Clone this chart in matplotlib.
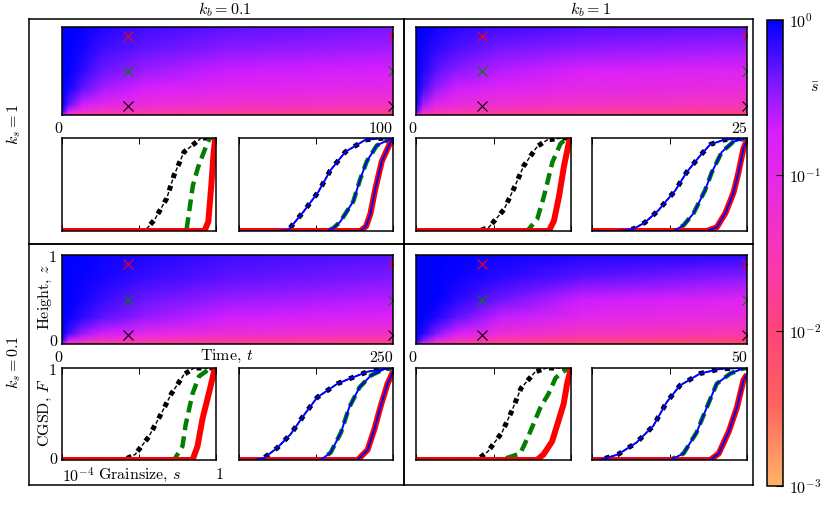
import numpy as np
import matplotlib
matplotlib.use("Agg")
import matplotlib.pyplot as plt
from matplotlib.colors import LinearSegmentedColormap, LogNorm
from matplotlib.cm import ScalarMappable

plt.rcParams['font.family'] = 'serif'
plt.rcParams['font.serif'] = ['cmr10', 'DejaVu Serif']
plt.rcParams['mathtext.fontset'] = 'cm'
plt.rcParams['axes.unicode_minus'] = False
plt.rcParams['axes.formatter.use_mathtext'] = True
plt.rcParams['lines.scale_dashes'] = False

# ---- colour scale (log10 of mean grainsize, -3 .. 0)
cmap_pos = [0.0, 0.18, 0.33, 0.5, 0.67, 0.76, 0.87, 1.0]
cmap_cols = ['#ffb366', '#ff6060', '#ff4478', '#f836b8', '#e428e8',
             '#d81eff', '#7a18ff', '#0000ff']

# ---- mean grainsize fields, log10(s_bar)
# each inner list is one time (t/T in t_frac), values from bottom (z=0) to top (z=1)
z_nodes = [0.0, 0.04, 0.12, 0.3, 0.5, 0.75, 1.0]
t_frac = [0.0, 0.02, 0.06, 0.12, 0.25, 0.5, 1.0]

field_ks1_kb01 = [
    [-1.2, -0.1, 0.0, 0.0, 0.0, 0.0, 0.0],
    [-1.5, -0.85, -0.3, -0.08, 0.0, 0.0, 0.0],
    [-1.7, -1.25, -0.7, -0.3, -0.15, -0.07, -0.03],
    [-1.75, -1.4, -0.95, -0.55, -0.35, -0.2, -0.1],
    [-1.8, -1.5, -1.15, -0.75, -0.52, -0.32, -0.2],
    [-1.85, -1.6, -1.3, -0.9, -0.68, -0.45, -0.3],
    [-1.9, -1.7, -1.4, -1.0, -0.78, -0.55, -0.38],
]
field_ks1_kb1 = [
    [-1.3, -0.2, 0.0, 0.0, 0.0, 0.0, 0.0],
    [-1.65, -1.1, -0.55, -0.2, -0.1, -0.05, 0.0],
    [-1.75, -1.4, -0.95, -0.5, -0.3, -0.15, -0.07],
    [-1.8, -1.5, -1.1, -0.7, -0.45, -0.25, -0.12],
    [-1.85, -1.6, -1.25, -0.85, -0.62, -0.38, -0.2],
    [-1.9, -1.7, -1.38, -1.0, -0.78, -0.48, -0.28],
    [-1.95, -1.75, -1.45, -1.1, -0.88, -0.55, -0.32],
]
field_ks01_kb01 = [
    [-1.2, -0.1, 0.0, 0.0, 0.0, 0.0, 0.0],
    [-1.6, -0.8, -0.2, -0.03, 0.0, 0.0, 0.0],
    [-1.75, -1.15, -0.5, -0.15, -0.07, -0.03, 0.0],
    [-1.85, -1.35, -0.7, -0.3, -0.17, -0.08, -0.04],
    [-1.9, -1.5, -0.95, -0.5, -0.35, -0.18, -0.1],
    [-1.95, -1.65, -1.15, -0.7, -0.5, -0.3, -0.2],
    [-2.0, -1.75, -1.3, -0.85, -0.62, -0.4, -0.27],
]
field_ks01_kb1 = [
    [-0.4, 0.0, 0.0, 0.0, 0.0, 0.0, 0.0],
    [-1.3, -0.4, -0.1, 0.0, 0.0, 0.0, 0.0],
    [-1.75, -1.0, -0.4, -0.1, 0.0, 0.0, 0.0],
    [-1.95, -1.35, -0.75, -0.3, -0.12, -0.04, 0.0],
    [-2.05, -1.65, -1.15, -0.65, -0.35, -0.13, -0.05],
    [-2.15, -1.85, -1.4, -0.95, -0.68, -0.3, -0.1],
    [-2.25, -1.95, -1.55, -1.12, -0.88, -0.45, -0.15],
]

t_max = {'ks1_kb01': 100, 'ks1_kb1': 25, 'ks01_kb01': 250, 'ks01_kb1': 50}
sample_t_frac = [0.2, 1.0]
sample_z = [0.9, 0.5, 0.1]
sample_colors = ['red', 'green', 'black']

# ---- cumulative grainsize distributions: (log10 s, F)
# early = at the first sample time, late = at the final time
ks1_kb01_early_top = ([-4, -0.3, -0.2, -0.12, -0.06, -0.02, 0], [0, 0, 0.1, 0.5, 0.85, 1.0, 1.0])
ks1_kb01_early_mid = ([-4, -0.77, -0.7, -0.6, -0.47, -0.25, -0.16, 0], [0, 0, 0.2, 0.49, 0.68, 0.92, 1.0, 1.0])
ks1_kb01_early_bot = ([-4, -1.85, -1.59, -1.28, -1.09, -0.83, -0.38, 0], [0, 0, 0.125, 0.35, 0.6, 0.85, 1.0, 1.0])
ks1_kb01_late_top = ([-4, -0.85, -0.7, -0.59, -0.46, -0.29, -0.07, 0], [0, 0, 0.05, 0.18, 0.45, 0.75, 0.95, 1.0])
ks1_kb01_late_mid = ([-4, -1.72, -1.55, -1.37, -1.03, -0.85, -0.68, -0.42, -0.07, 0], [0, 0, 0.03, 0.1, 0.32, 0.56, 0.75, 0.92, 0.99, 1.0])
ks1_kb01_late_bot = ([-4, -3.03, -2.72, -2.32, -1.94, -1.63, -1.24, -0.72, -0.2], [0, 0, 0.01, 0.21, 0.42, 0.65, 0.85, 0.98, 1.0])

ks1_kb1_early_top = ([-4, -0.57, -0.44, -0.31, -0.18, -0.05, 0], [0, 0, 0.11, 0.37, 0.70, 0.96, 1.0])
ks1_kb1_early_mid = ([-4, -1.13, -0.87, -0.70, -0.48, -0.27, -0.1, 0], [0, 0, 0.13, 0.37, 0.74, 0.94, 1.0, 1.0])
ks1_kb1_early_bot = ([-4, -2.38, -2.12, -1.73, -1.47, -1.22, -0.87, -0.61, -0.2, 0], [0, 0, 0.04, 0.23, 0.46, 0.70, 0.91, 0.98, 1.0, 1.0])
ks1_kb1_late_top = ([-4, -1.04, -0.78, -0.56, -0.35, -0.22, -0.09, 0], [0, 0, 0.04, 0.19, 0.41, 0.63, 0.89, 0.98])
ks1_kb1_late_mid = ([-4, -1.9, -1.64, -1.38, -1.08, -0.91, -0.65, -0.35, -0.1, 0], [0, 0, 0.06, 0.19, 0.44, 0.63, 0.85, 0.96, 0.99, 1.0])
ks1_kb1_late_bot = ([-4, -3.37, -2.94, -2.64, -2.29, -2.07, -1.86, -1.56, -1.21, -0.95, -0.6, -0.1], [0, 0, 0.02, 0.09, 0.22, 0.33, 0.43, 0.63, 0.81, 0.93, 0.98, 1.0])

ks01_kb01_early_top = ([-4, -0.61, -0.48, -0.35, -0.17, -0.04, 0], [0, 0, 0.15, 0.45, 0.75, 0.98, 1.0])
ks01_kb01_early_mid = ([-4, -1.09, -0.87, -0.79, -0.61, -0.44, -0.17, 0], [0, 0, 0.15, 0.38, 0.72, 0.91, 0.99, 1.0])
ks01_kb01_early_bot = ([-4, -2.4, -2.1, -1.75, -1.44, -1.16, -0.83, -0.57, 0], [0, 0, 0.06, 0.25, 0.49, 0.72, 0.93, 1.0, 1.0])
ks01_kb01_late_top = ([-4, -0.92, -0.66, -0.48, -0.31, -0.14, 0], [0, 0, 0.11, 0.34, 0.6, 0.83, 0.96])
ks01_kb01_late_mid = ([-4, -1.88, -1.62, -1.35, -1.14, -0.87, -0.57, -0.22, 0], [0, 0, 0.08, 0.30, 0.57, 0.79, 0.92, 0.99, 1.0])
ks01_kb01_late_bot = ([-4, -3.62, -3.36, -3.01, -2.66, -2.31, -1.97, -1.44, -1.09, -0.66, -0.04], [0, 0, 0.02, 0.13, 0.28, 0.49, 0.68, 0.83, 0.89, 0.96, 1.0])

ks01_kb1_early_top = ([-4, -0.88, -0.71, -0.49, -0.32, -0.19, -0.1, 0], [0, 0, 0.06, 0.20, 0.43, 0.61, 0.83, 1.0])
ks01_kb1_early_mid = ([-4, -1.82, -1.31, -1.10, -0.79, -0.58, -0.40, -0.27, -0.1, 0], [0, 0, 0.07, 0.26, 0.57, 0.72, 0.89, 0.94, 0.99, 1.0])
ks01_kb1_early_bot = ([-4, -2.43, -2.15, -1.78, -1.52, -1.29, -0.92, -0.62, 0], [0, 0, 0.09, 0.30, 0.54, 0.78, 0.96, 1.0, 1.0])
ks01_kb1_late_top = ([-4, -0.95, -0.73, -0.47, -0.26, -0.09, 0], [0, 0, 0.07, 0.31, 0.57, 0.87, 0.93])
ks01_kb1_late_mid = ([-4, -1.99, -1.64, -1.30, -1.04, -0.78, -0.43, -0.13, 0], [0, 0, 0.07, 0.30, 0.57, 0.83, 0.94, 0.99, 1.0])
ks01_kb1_late_bot = ([-4, -3.8, -3.33, -2.85, -2.42, -2.07, -1.73, -1.21, -0.69, -0.2], [0, 0, 0.06, 0.19, 0.37, 0.63, 0.81, 0.94, 0.99, 1.0])

W, H = 830, 513


def rect(x0, y0, x1, y1):
    return [x0 / W, 1 - y1 / H, (x1 - x0) / W, (y1 - y0) / H]


cmap = LinearSegmentedColormap.from_list('sbar', list(zip(cmap_pos, cmap_cols)))

fig = plt.figure(figsize=(W / 100, H / 100), dpi=100)

# outer frames
for fr in [(29, 19, 404, 244), (404, 19, 753, 244), (29, 244, 404, 485), (404, 244, 753, 485)]:
    fax = fig.add_axes(rect(*fr), zorder=0)
    fax.set_xticks([])
    fax.set_yticks([])
    fax.patch.set_alpha(0)
    for sp in fax.spines.values():
        sp.set_linewidth(1.1)

col_x = [(62, 393, 216, 239), (416, 747, 571, 592)]
row_y = [(27, 115, 138, 231), (255, 344, 368, 460)]


def plot_cgsd(ax, curves, styles):
    for (ls, F), st in zip(curves, styles):
        s = 10.0 ** np.array(ls)
        if st == 'k':
            # square dots and thin dashes, both dashed along the same path
            ax.plot(s, F, color='black', lw=3.6, ls=(0, (3.6, 5.8)), dash_capstyle='butt')
            ax.plot(s, F, color='black', lw=1.0, ls=(4.2, (3.0, 6.4)), dash_capstyle='butt')
        elif st == 'g':
            ax.plot(s, F, color='#007f00', lw=3.2, ls=(0, (8.5, 4.5)), dash_capstyle='butt')
        elif st == 'r':
            ax.plot(s, F, color='#ff0000', lw=4.3, solid_capstyle='butt')
        elif st == 'b':
            ax.plot(s, F, color='#0000ff', lw=1.4)
    ax.set_xscale('log')
    ax.set_xlim(1e-4, 1)
    ax.set_ylim(0, 1)
    ax.tick_params(axis='x', which='both', direction='in', top=True, bottom=True,
                   labelbottom=False)
    ax.tick_params(axis='x', which='major', length=4, width=0.7)
    ax.tick_params(axis='x', which='minor', length=2, width=0.6)
    ax.tick_params(axis='y', length=0, labelleft=False)
    for sp in ax.spines.values():
        sp.set_linewidth(1.1)


def draw_panel(ci, ri, key, field, early, late):
    hx0, hx1, sx1, sx2 = col_x[ci]
    hy0, hy1, sy0, sy1 = row_y[ri]
    T = t_max[key]

    ax = fig.add_axes(rect(hx0, hy0, hx1, hy1))
    ax.pcolormesh(np.array(t_frac) * T, z_nodes, np.array(field).T, cmap=cmap,
                  vmin=-3, vmax=0, shading='gouraud')
    for zm, c in zip(sample_z, sample_colors):
        ax.plot(np.array(sample_t_frac) * T, [zm, zm], ls='none', marker='x',
                color=c, ms=7, mew=0.8)
    ax.set_xlim(0, T)
    ax.set_ylim(0, 1)
    ax.set_xticks([0, T])
    ax.set_xticklabels(['0', str(T)])
    for lab in ax.get_xticklabels():
        lab.set_horizontalalignment('right')
    ax.tick_params(length=0, labelsize=11.5, pad=5)
    ax.set_yticks([])
    for sp in ax.spines.values():
        sp.set_linewidth(1.1)

    a1 = fig.add_axes(rect(hx0, sy0, sx1, sy1))
    plot_cgsd(a1, [early[2], early[1], early[0]], ['k', 'g', 'r'])
    a2 = fig.add_axes(rect(sx2, sy0, hx1, sy1))
    plot_cgsd(a2, [late[2], late[1], late[0], late[2], late[1], late[0]],
              ['k', 'g', 'r', 'b', 'b', 'b'])


draw_panel(0, 0, 'ks1_kb01', field_ks1_kb01,
           (ks1_kb01_early_top, ks1_kb01_early_mid, ks1_kb01_early_bot),
           (ks1_kb01_late_top, ks1_kb01_late_mid, ks1_kb01_late_bot))
draw_panel(1, 0, 'ks1_kb1', field_ks1_kb1,
           (ks1_kb1_early_top, ks1_kb1_early_mid, ks1_kb1_early_bot),
           (ks1_kb1_late_top, ks1_kb1_late_mid, ks1_kb1_late_bot))
draw_panel(0, 1, 'ks01_kb01', field_ks01_kb01,
           (ks01_kb01_early_top, ks01_kb01_early_mid, ks01_kb01_early_bot),
           (ks01_kb01_late_top, ks01_kb01_late_mid, ks01_kb01_late_bot))
draw_panel(1, 1, 'ks01_kb1', field_ks01_kb1,
           (ks01_kb1_early_top, ks01_kb1_early_mid, ks01_kb1_early_bot),
           (ks01_kb1_late_top, ks01_kb1_late_mid, ks01_kb1_late_bot))


def ftext(x, y, s, **kw):
    kw.setdefault('fontsize', 11.5)
    kw.setdefault('ha', 'center')
    kw.setdefault('va', 'center')
    fig.text(x / W, 1 - y / H, s, **kw)


# headings
ftext(225, 10, r'$k_b = 0.1$')
ftext(590, 10, r'$k_b = 1$')
ftext(14, 124, r'$k_s = 1$', rotation=90)
ftext(14, 362, r'$k_s = 0.1$', rotation=90)

# axis annotations (bottom-left panel only)
ftext(45, 297, r'Height, $z$', rotation=90)
ftext(57, 258, '1', ha='right')
ftext(57, 342, '0', ha='right')
ftext(227, 356, r'Time, $t$')
ftext(45, 413, r'CGSD, $F$', rotation=90)
ftext(57, 371, '1', ha='right')
ftext(57, 460, '0', ha='right')
ftext(62, 475, r'$10^{-4}$', ha='left')
ftext(140, 475, r'Grainsize, $s$')
ftext(216, 475, '1', ha='left')

# colour bar
cax = fig.add_axes(rect(767, 20, 783, 486))
sm = ScalarMappable(norm=LogNorm(1e-3, 1), cmap=cmap)
cb = fig.colorbar(sm, cax=cax)
cb.set_ticks([1e-3, 1e-2, 1e-1, 1])
cb.set_ticklabels([r'$10^{-3}$', r'$10^{-2}$', r'$10^{-1}$', r'$10^{0}$'])
cb.ax.minorticks_off()
cb.ax.tick_params(direction='in', length=5, width=0.8, labelsize=11.5, pad=4)
cb.outline.set_linewidth(1.1)
ftext(815, 88, r'$\bar{s}$')

fig.savefig('out.png', dpi=100)
